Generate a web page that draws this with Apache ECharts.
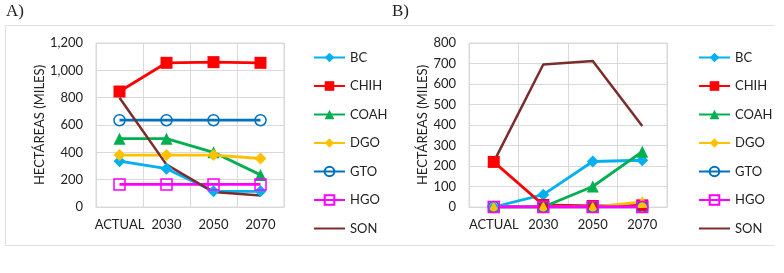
<!DOCTYPE html>
<html>
<head>
<meta charset="utf-8">
<script src="https://cdn.jsdelivr.net/npm/echarts@6/dist/echarts.min.js"></script>
<style>
  html, body { margin: 0; padding: 0; background: #fff; }
  #chart { width: 784px; height: 273px; }
</style>
</head>
<body>
<div id="chart"></div>
<script>
// categorias
var periodos = ['ACTUAL', '2030', '2050', '2070'];
var estados = ['BC', 'CHIH', 'COAH', 'DGO', 'GTO', 'HGO', 'SON'];

// panel A
var bcA = [335, 280, 115, 115];
var chihA = [845, 1055, 1060, 1055];
var coahA = [500, 500, 400, 235];
var dgoA = [380, 380, 380, 355];
var gtoA = [635, 635, 635, 635];
var hgoA = [165, 165, 165, 165];
var sonA = [800, 310, 110, 85];

// panel B
var bcB = [0, 60, 222, 228];
var chihB = [220, 10, 5, 8];
var coahB = [0, 0, 100, 270];
var dgoB = [0, 0, 0, 25];
var gtoB = [0, 0, 0, 0];
var hgoB = [0, 0, 0, 0];
var sonB = [220, 695, 712, 395];

var colores = ['#00B0F0', '#FF0000', '#00B050', '#FFC000', '#0070C0', '#FF00FF', '#7B2C2C'];
var fuente = 'Lato';

var myChart = echarts.init(document.getElementById('chart'));

function serie(nombre, datos, idx, simbolo, tam, hueco) {
  var color = colores[estados.indexOf(nombre)];
  return {
    name: nombre,
    type: 'line',
    xAxisIndex: idx,
    yAxisIndex: idx,
    data: datos,
    symbol: simbolo,
    symbolSize: tam,
    showSymbol: simbolo !== 'none',
    lineStyle: { color: color, width: nombre === 'SON' ? 2.5 : 2.8 },
    itemStyle: hueco
      ? { color: 'transparent', borderColor: color, borderWidth: 1.5 }
      : { color: color, borderWidth: 0 },
    emphasis: { disabled: true },
    animation: false
  };
}

function ejeX(idx) {
  return {
    type: 'category',
    gridIndex: idx,
    data: periodos,
    axisLine: { show: true, lineStyle: { color: '#d9d9d9' } },
    axisTick: { show: false },
    axisLabel: { color: '#222', fontFamily: fuente, fontSize: 13, margin: 11, interval: 0 },
    splitLine: { show: true, lineStyle: { color: '#d9d9d9' } }
  };
}

function ejeY(idx, max, intervalo, fmt) {
  return {
    type: 'value',
    gridIndex: idx,
    min: 0,
    max: max,
    interval: intervalo,
    name: 'HECTÁREAS (MILES)',
    nameLocation: 'middle',
    nameRotate: 90,
    nameGap: idx === 0 ? 47 : 37,
    nameTextStyle: { color: '#222', fontFamily: fuente, fontSize: 13 },
    axisLine: { show: false },
    axisTick: { show: false },
    axisLabel: { color: '#222', fontFamily: fuente, fontSize: 13, margin: 13, formatter: fmt },
    splitLine: { show: true, lineStyle: { color: '#d9d9d9' } }
  };
}

function leyenda(izq) {
  return {
    orient: 'vertical',
    left: izq,
    top: 46,
    itemWidth: 31,
    itemHeight: 12,
    itemGap: 15.5,
    textStyle: { color: '#222', fontFamily: fuente, fontSize: 13 },
    data: estados.map(function (n) {
      return n === 'SON' ? { name: n, itemStyle: { opacity: 0 } } : n;
    })
  };
}

var option = {
  backgroundColor: '#fff',
  animation: false,
  graphic: [
    { type: 'line', shape: { x1: 5, y1: 25.5, x2: 775, y2: 25.5 }, style: { stroke: '#e0e0e0', lineWidth: 1 } },
    { type: 'line', shape: { x1: 5, y1: 245.5, x2: 775, y2: 245.5 }, style: { stroke: '#e0e0e0', lineWidth: 1 } },
    { type: 'line', shape: { x1: 5.5, y1: 25, x2: 5.5, y2: 246 }, style: { stroke: '#e0e0e0', lineWidth: 1 } },
    { type: 'text', left: 6, top: 3, style: { text: 'A)', font: '17px "Liberation Serif"', fill: '#222' } },
    { type: 'text', left: 392, top: 3, style: { text: 'B)', font: '17px "Liberation Serif"', fill: '#222' } }
  ],
  grid: [
    { left: 96, top: 43, width: 188, height: 164, show: true, borderColor: '#d9d9d9', borderWidth: 1 },
    { left: 469, top: 43, width: 198, height: 164, show: true, borderColor: '#d9d9d9', borderWidth: 1 }
  ],
  legend: [leyenda(308), leyenda(693)],
  xAxis: [ejeX(0), ejeX(1)],
  yAxis: [
    ejeY(0, 1200, 200, function (v) { return v.toLocaleString('en-US'); }),
    ejeY(1, 800, 100, null)
  ],
  series: [
    serie('BC', bcA, 0, 'diamond', 12, false),
    serie('CHIH', chihA, 0, 'rect', 12, false),
    serie('COAH', coahA, 0, 'triangle', 12, false),
    serie('DGO', dgoA, 0, 'diamond', 12, false),
    serie('GTO', gtoA, 0, 'circle', 11, true),
    serie('HGO', hgoA, 0, 'rect', 11, true),
    serie('SON', sonA, 0, 'none', 0, false),

    serie('BC', bcB, 1, 'diamond', 12, false),
    serie('CHIH', chihB, 1, 'rect', 12, false),
    serie('COAH', coahB, 1, 'triangle', 12, false),
    serie('DGO', dgoB, 1, 'triangle', 12, false),
    serie('GTO', gtoB, 1, 'circle', 11, true),
    serie('HGO', hgoB, 1, 'rect', 11, true),
    serie('SON', sonB, 1, 'none', 0, false)
  ]
};

myChart.setOption(option);
</script>
</body>
</html>
